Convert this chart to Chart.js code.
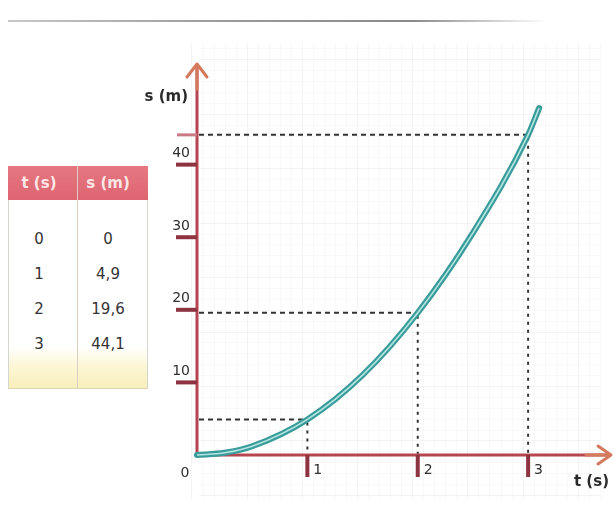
<!DOCTYPE html>
<html>
<head>
<meta charset="utf-8">
<script src="https://cdn.jsdelivr.net/npm/chart.js@4"></script>
<style>
  html, body { margin: 0; padding: 0; background: #fff; }
  #wrap { position: relative; width: 614px; height: 522px; overflow: hidden; background: #fff; }
  #c { position: absolute; left: 0; top: 0; }
  #topline { position: absolute; left: 8px; top: 20px; width: 540px; height: 2px;
    background: linear-gradient(to right, #c8c8c8, #9a9a9a 40%, #8a8a8a 75%, rgba(200,200,200,0)); }
  #table { position: absolute; left: 8px; top: 166px; width: 140px; height: 222px;
    font-family: "DejaVu Sans", Verdana, sans-serif; }
  #thead { position: absolute; left: 0; top: 0; width: 140px; height: 34px;
    background: linear-gradient(to bottom, #e67880, #dd6470); }
  #tbody { position: absolute; left: 0; top: 34px; width: 138px; height: 188px;
    border-left: 1px solid #d6d6d0; border-right: 1px solid #d6d6d0; border-bottom: 1px solid #ddd6b0;
    background: linear-gradient(to bottom, #ffffff 0%, #ffffff 78%, #fcf6d6 88%, #f9efbc 100%); }
  #divider { position: absolute; left: 69px; top: 0; width: 1px; height: 222px; background: #d9cfc3; }
  .cell { position: absolute; transform: translate(-50%, -50%); white-space: nowrap; }
  .hcell { color: #fde6e6; font-size: 15px; font-weight: bold; }
  .bcell { color: #333; font-size: 15px; }
</style>
</head>
<body>
<div id="wrap">
  <div id="topline"></div>
  <canvas id="c" width="614" height="522"></canvas>
  <div id="table">
    <div id="thead"></div>
    <div id="tbody"></div>
    <div id="divider"></div>
  </div>
</div>
<script>
// ---- data ----
const tableHeaders = ["t (s)", "s (m)"];
const tValues = [0, 1, 2, 3];
const sValues = [0, 4.9, 19.6, 44.1];
// points
const curveT = [0, 0.25, 0.5, 1, 1.5, 2, 2.5, 3, 3.1];
const curveS = [0, 0.3, 1.2, 4.9, 11.0, 19.6, 30.6, 44.1, 47.8];
const xTickValues = [1, 2, 3];
const xTickLabels = ["1", "2", "3"];
const yTickValues = [10, 20, 30, 40];
const yTickLabels = ["10", "20", "30", "40"];
const originLabel = "0";
const xAxisTitle = "t (s)";
const yAxisTitle = "s (m)";
const xAxisMax = 3.76;
const yAxisMax = 54;

const fmt = v => String(v).replace('.', ',');

// ---- table ----
const table = document.getElementById('table');
const colCenters = [31, 100];
tableHeaders.forEach((h, i) => {
  const d = document.createElement('div');
  d.className = 'cell hcell';
  d.style.left = colCenters[i] + 'px';
  d.style.top = '17px';
  d.textContent = h;
  table.appendChild(d);
});
tValues.forEach((t, r) => {
  [fmt(t), fmt(sValues[r])].forEach((txt, i) => {
    const d = document.createElement('div');
    d.className = 'cell bcell';
    d.style.left = colCenters[i] + 'px';
    d.style.top = (73 + r * 35) + 'px';
    d.textContent = txt;
    table.appendChild(d);
  });
});

// ---- chart ----
const curve = curveT.map((t, i) => ({ x: t, y: curveS[i] }));

const paperPlugin = {
  id: 'paper',
  beforeDatasetsDraw(chart) {
    const ctx = chart.ctx;
    const xs = chart.scales.x, ys = chart.scales.y;
    const X = v => xs.getPixelForValue(v), Y = v => ys.getPixelForValue(v);
    const x0 = X(0), y0 = Y(0);
    ctx.save();
    // faint graph paper
    ctx.lineWidth = 1;
    for (let i = 0, v = -0.05; v <= 3.7; v += 0.1, i++) {
      ctx.strokeStyle = i % 5 === 0 ? 'rgba(0,0,0,0.045)' : 'rgba(0,0,0,0.025)';
      const px = Math.round(X(v)) + 0.5;
      ctx.beginPath(); ctx.moveTo(px, Y(yAxisMax) - 20); ctx.lineTo(px, y0 + 45); ctx.stroke();
    }
    for (let i = 0, v = -5.5; v <= yAxisMax + 2; v += 1.5, i++) {
      ctx.strokeStyle = i % 5 === 0 ? 'rgba(0,0,0,0.045)' : 'rgba(0,0,0,0.025)';
      const py = Math.round(Y(v)) + 0.5;
      ctx.beginPath(); ctx.moveTo(x0 + 2, py); ctx.lineTo(X(3.65), py); ctx.stroke();
    }

    // dashed guides
    ctx.strokeStyle = '#333';
    ctx.lineWidth = 2;
    tValues.forEach((t, i) => {
      if (t === 0) return;
      const px = X(t), py = Y(sValues[i]);
      ctx.setLineDash([5, 4]);
      ctx.beginPath(); ctx.moveTo(x0 + 2, py); ctx.lineTo(px, py); ctx.stroke();
      ctx.setLineDash([3, 5]);
      ctx.beginPath(); ctx.moveTo(px, py + 3); ctx.lineTo(px, y0); ctx.stroke();
    });
    ctx.setLineDash([]);

    // axes
    ctx.strokeStyle = '#b5464f';
    ctx.lineWidth = 3;
    ctx.beginPath(); ctx.moveTo(x0, y0); ctx.lineTo(x0, Y(yAxisMax) + 2); ctx.stroke();
    ctx.beginPath(); ctx.moveTo(x0, y0); ctx.lineTo(X(xAxisMax) - 2, y0); ctx.stroke();
    // arrows
    ctx.strokeStyle = '#d5795c';
    ctx.lineWidth = 3;
    ctx.lineCap = 'round';
    ctx.lineJoin = 'round';
    const ty = Y(yAxisMax);
    ctx.beginPath(); ctx.moveTo(x0 - 10, ty + 14); ctx.lineTo(x0, ty + 1); ctx.lineTo(x0 + 10, ty + 14); ctx.stroke();
    ctx.beginPath(); ctx.moveTo(x0, ty + 2); ctx.lineTo(x0, ty + 26); ctx.stroke();
    const tx = X(xAxisMax);
    ctx.beginPath(); ctx.moveTo(tx - 14, y0 - 9); ctx.lineTo(tx - 1, y0); ctx.lineTo(tx - 14, y0 + 9); ctx.stroke();
    ctx.beginPath(); ctx.moveTo(tx - 2, y0); ctx.lineTo(tx - 26, y0); ctx.stroke();
    ctx.lineCap = 'butt';

    // ticks
    ctx.strokeStyle = '#8e3340';
    ctx.lineWidth = 4;
    yTickValues.forEach(v => {
      const py = Y(v);
      ctx.beginPath(); ctx.moveTo(x0 - 21, py); ctx.lineTo(x0, py); ctx.stroke();
    });
    ctx.strokeStyle = '#c97a84';
    ctx.lineWidth = 3;
    {
      const py = Y(sValues[sValues.length - 1]);
      ctx.beginPath(); ctx.moveTo(x0 - 20, py); ctx.lineTo(x0, py); ctx.stroke();
    }
    ctx.strokeStyle = '#8e3340';
    ctx.lineWidth = 4;
    xTickValues.forEach(v => {
      const px = X(v);
      ctx.beginPath(); ctx.moveTo(px, y0); ctx.lineTo(px, y0 + 22); ctx.stroke();
    });

    // tick labels
    ctx.fillStyle = '#2e2e2e';
    ctx.font = '14px "DejaVu Sans", sans-serif';
    ctx.textAlign = 'right';
    ctx.textBaseline = 'middle';
    yTickValues.forEach((v, i) => ctx.fillText(yTickLabels[i], x0 - 7, Y(v) - 11));
    ctx.textAlign = 'left';
    xTickValues.forEach((v, i) => ctx.fillText(xTickLabels[i], X(v) + 6, y0 + 15));
    ctx.textAlign = 'center';
    ctx.fillText(originLabel, x0 - 12, y0 + 18);

    // axis titles
    ctx.fillStyle = '#2a2a2a';
    ctx.font = 'bold 15px "DejaVu Sans", sans-serif';
    ctx.textAlign = 'right';
    ctx.fillText(yAxisTitle, x0 - 9, Y(yAxisMax) + 34);
    ctx.fillText(xAxisTitle, X(xAxisMax) - 3, y0 + 27);
    ctx.restore();
  }
};

new Chart(document.getElementById('c'), {
  type: 'scatter',
  data: {
    datasets: [
      { data: curve, showLine: true, borderColor: '#b3e6e2', borderWidth: 1.6,
        pointRadius: 0, cubicInterpolationMode: 'monotone', clip: false },
      { data: curve, showLine: true, borderColor: '#3a9c9a', borderWidth: 6,
        pointRadius: 0, cubicInterpolationMode: 'monotone', borderCapStyle: 'round', clip: false }
    ]
  },
  options: {
    responsive: false,
    animation: false,
    layout: { padding: { left: 197, right: 2, top: 63, bottom: 67 } },
    plugins: { legend: { display: false }, tooltip: { enabled: false } },
    scales: {
      x: { type: 'linear', min: 0, max: xAxisMax, display: false },
      y: { type: 'linear', min: 0, max: yAxisMax, display: false }
    }
  },
  plugins: [paperPlugin]
});
</script>
</body>
</html>
